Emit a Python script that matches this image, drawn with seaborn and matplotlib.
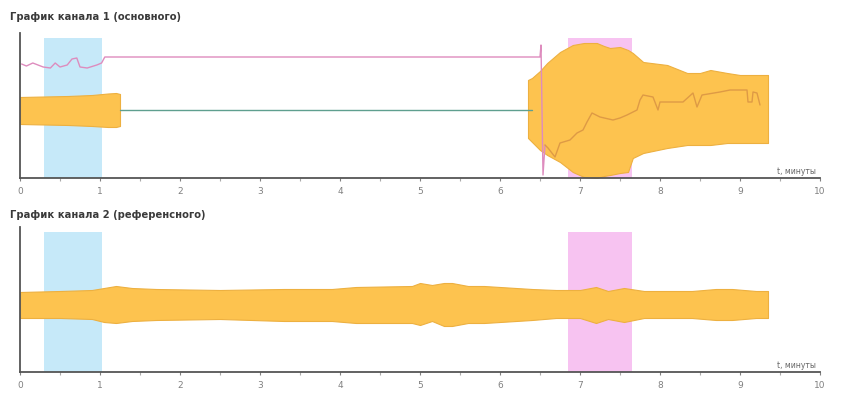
import numpy as np
import pandas as pd
import matplotlib
matplotlib.use("Agg")
import matplotlib.pyplot as plt
import seaborn as sns

# ---------------- data ----------------
titles = ["График канала 1 (основного)", "График канала 2 (референсного)"]
x_ticks = [0, 1, 2, 3, 4, 5, 6, 7, 8, 9, 10]
x_label = "t, минуты"
blue_span = (0.3, 1.02)
pink_span = (6.85, 7.65)

# channel 1 envelope, part 1
env1a_x = [0.0, 0.3, 0.6, 0.9, 1.1, 1.2, 1.25]
env1a_hi = [81, 81.5, 82, 83, 84.5, 85, 84]
env1a_lo = [54, 53.5, 53, 52, 51, 51, 52]

# channel 1 envelope, part 2
env1b_x = [6.35, 6.4, 6.5, 6.59, 6.75, 6.91, 7.05, 7.21, 7.3, 7.375, 7.5, 7.6, 7.66,
           7.79, 8.09, 8.34, 8.5, 8.63, 8.84, 9.0, 9.35]
env1b_hi = [98, 100, 107, 115, 126, 133, 135, 135, 132, 130, 131, 128, 125,
            116, 113, 105, 105, 108, 105, 103, 103]
env1b_lo = [40, 36, 28, 23, 16, 6, 1, 0, 2, 3, 5, 6, 20,
            25, 30, 33, 33, 33, 35, 35, 35]

# channel 1 signal, outside the envelope (pink)
pink_x = [0.02, 0.08, 0.16, 0.29, 0.38, 0.44, 0.5, 0.59, 0.65, 0.71, 0.75, 0.84, 0.96,
          1.02, 1.06, 6.5, 6.5125, 6.5375, 6.5625]
pink_y = [114, 112, 115, 111, 110, 115, 111, 113, 119, 120, 111, 110, 113,
          115, 121, 121, 133, 3, 33]

# channel 1 signal, inside the envelope
inner_x = [6.5625, 6.6, 6.6875, 6.75, 6.875, 6.9625,
           7.0375, 7.0875, 7.15, 7.25, 7.4125, 7.5, 7.5875, 7.7125, 7.75, 7.7875, 7.9125,
           7.975, 8.0, 8.2875, 8.4125, 8.4625, 8.525, 8.75, 8.875, 9.0875, 9.1, 9.15,
           9.1625, 9.2125, 9.25]
inner_y = [33, 30, 21, 35, 38, 45,
           48, 56, 65, 61, 58, 60, 63, 68, 78, 83, 81,
           68, 76, 76, 85, 71, 83, 86, 88, 88, 76, 76,
           86, 85, 73]

# channel 1 teal baseline
teal_x = [1.25, 6.4]
teal_y = [68, 68]

# channel 2 envelope
env2_x = [0, 0.5, 0.9, 1.05, 1.2, 1.4, 1.7, 2.5, 3.3, 3.9, 4.2, 4.9, 5.0, 5.15, 5.3,
          5.4, 5.6, 5.8, 6.4, 6.7, 7.0, 7.2, 7.35, 7.55, 7.8, 8.4, 8.7, 8.9, 9.2, 9.35]
env2_hi = [80, 81, 82, 84, 86, 84, 83, 82, 83, 83, 85, 86, 89, 87, 89,
           89, 86, 86, 83, 82, 82, 85, 81, 84, 81, 81, 83, 83, 81, 81]
env2_lo = [54, 54, 53, 50, 49, 51, 52, 53, 51, 51, 49, 49, 47, 51, 46,
           46, 49, 49, 52, 54, 54, 49, 53, 50, 54, 54, 52, 52, 54, 54]

# ---------------- style ----------------
sns.set_style("white")
plt.rcParams["font.family"] = ["DejaVu Sans"]

ORANGE = "#FDC34F"
ORANGE_EDGE = "#EDB040"
INNER = "#DE9A45"
BLUE = "#C6E9F9"
PINKSPAN = "#F7C3F1"
PINKLINE = "#DE8CBE"
TEAL = "#5F9F8F"
SPINE = "#555555"
TICKC = "#808080"

W, H = 851, 403
fig = plt.figure(figsize=(W / 100, H / 100), dpi=100)

def px_axes(left, top, right, bottom):
    return fig.add_axes([left / W, 1 - bottom / H, (right - left) / W, (bottom - top) / H])

ax1 = px_axes(20, 33, 820, 178)
ax2 = px_axes(20, 227, 820, 372)

span_top = (178 - 38) / 145

for ax in (ax1, ax2):
    ax.set_xlim(0, 10.0)
    ax.set_ylim(0, 145)
    ax.axvspan(*blue_span, ymin=0, ymax=span_top, color=BLUE, lw=0, zorder=0)
    ax.axvspan(*pink_span, ymin=0, ymax=span_top, color=PINKSPAN, lw=0, zorder=0)
    for s in ("top", "right"):
        ax.spines[s].set_visible(False)
    ax.spines["left"].set_color(SPINE)
    ax.spines["bottom"].set_color(SPINE)
    ax.spines["left"].set_linewidth(1.3)
    ax.spines["bottom"].set_linewidth(1.3)
    ax.set_yticks([])
    ax.set_xticks(x_ticks)
    ax.set_xticklabels([str(t) for t in x_ticks])
    ax.set_xticks(np.arange(0.5, 10, 1.0), minor=True)
    ax.tick_params(axis="x", which="major", length=2.5, width=0.8, color=TICKC,
                   labelsize=6.5, labelcolor=TICKC, pad=4, bottom=True)
    ax.tick_params(axis="x", which="minor", length=2, width=0.8, color="#aaaaaa", bottom=True)
    ax.text(9.95, 2, x_label, ha="right", va="bottom", fontsize=5.5, color="#666666")

# channel 1
ax1.fill_between(env1a_x, env1a_lo, env1a_hi, color=ORANGE, ec=ORANGE_EDGE, lw=0.8, zorder=2)
ax1.fill_between(env1b_x, env1b_lo, env1b_hi, color=ORANGE, ec=ORANGE_EDGE, lw=0.8, zorder=2)
sns.lineplot(x=teal_x, y=teal_y, ax=ax1, color=TEAL, lw=1.0, zorder=3)
sns.lineplot(x=pink_x, y=pink_y, ax=ax1, color=PINKLINE, lw=1.0, zorder=4, sort=False,
             estimator=None)
sns.lineplot(x=inner_x, y=inner_y, ax=ax1, color=INNER, lw=1.0, zorder=4, sort=False,
             estimator=None)

# channel 2
ax2.fill_between(env2_x, env2_lo, env2_hi, color=ORANGE, ec=ORANGE_EDGE, lw=0.8, zorder=2)

for ax in (ax1, ax2):
    ax.set_xlim(0, 10.0)
    ax.set_ylim(0, 145)
    ax.set_xlabel("")
    ax.set_ylabel("")

fig.text(10 / W, 1 - 17 / H, titles[0], fontsize=7.2, fontweight="bold", color="#3a3a3a",
         ha="left", va="center")
fig.text(10 / W, 1 - 215 / H, titles[1], fontsize=7.2, fontweight="bold", color="#3a3a3a",
         ha="left", va="center")

fig.savefig("out.png", dpi=100)
